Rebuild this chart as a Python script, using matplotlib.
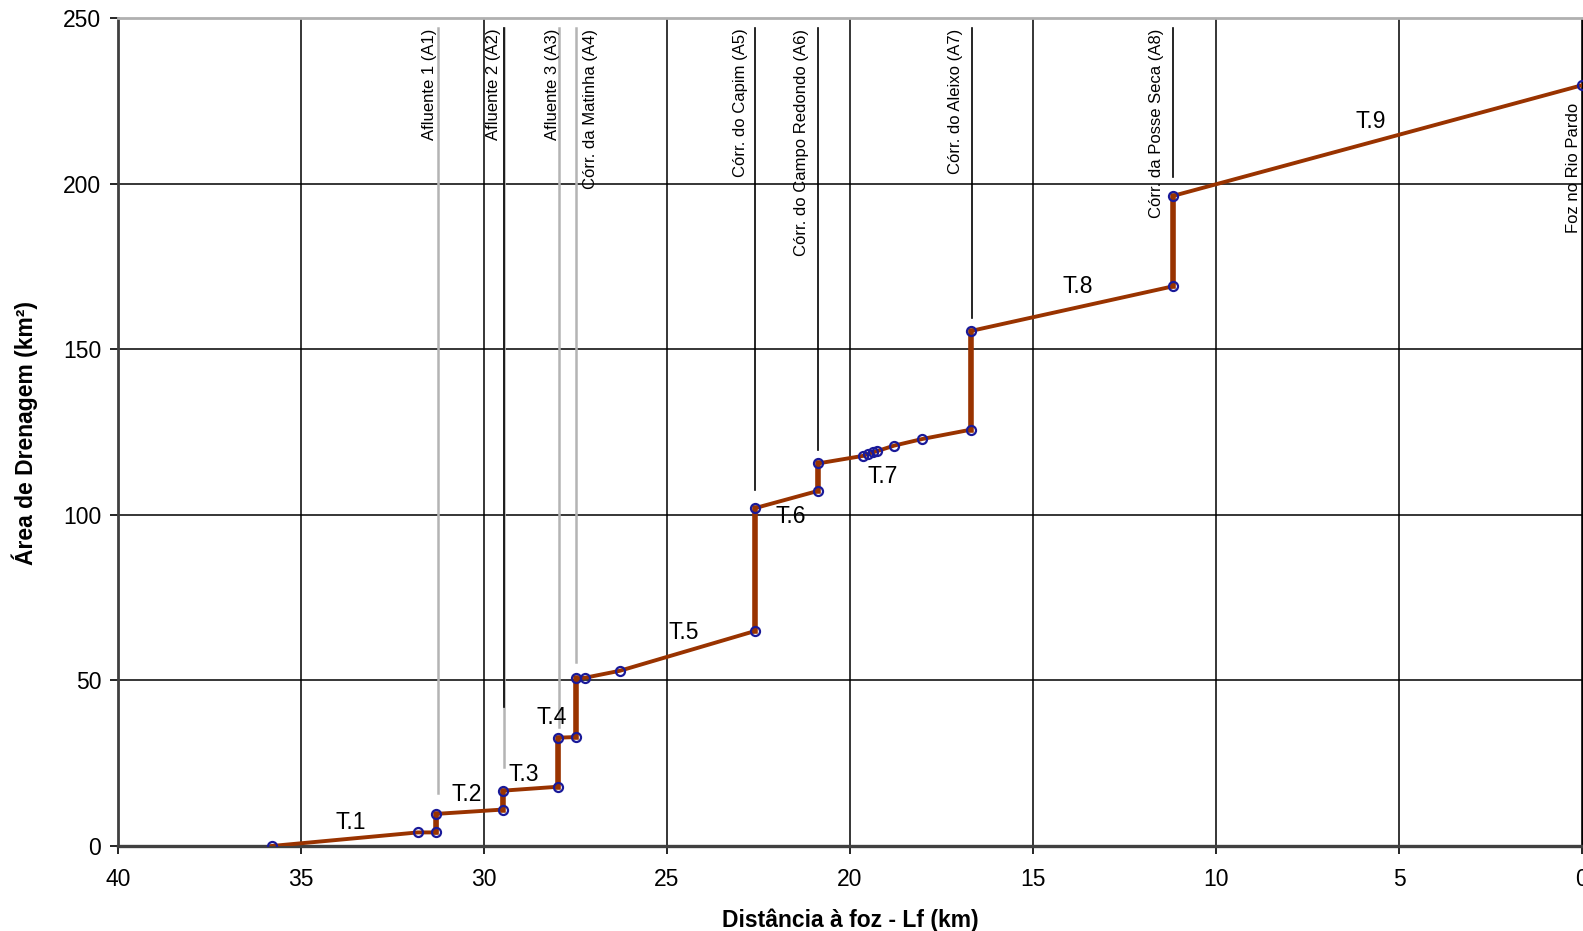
import matplotlib.pyplot as plt

# === Dados ===
dist_km = [35.80, 31.81, 31.30, 31.30, 29.49, 29.49, 27.97, 27.97, 27.49, 27.49,
           27.24, 26.29, 22.60, 22.60, 20.88, 20.88, 19.64, 19.50, 19.36, 19.27,
           18.79, 18.02, 16.70, 16.70, 11.17, 11.17, 0.0]
area_km2 = [0.0, 4.1, 4.1, 9.7, 11.0, 16.7, 17.9, 32.7, 32.9, 50.6,
            50.8, 52.9, 64.9, 102.0, 107.2, 115.5, 117.8, 118.4, 118.9, 119.2,
            120.9, 122.9, 125.7, 155.5, 169.0, 196.3, 229.7]

trechos = ["T.1", "T.2", "T.3", "T.4", "T.5", "T.6", "T.7", "T.8", "T.9"]
trecho_x = [33.63, 30.48, 28.91, 28.14, 24.55, 21.63, 19.12, 13.77, 5.77]
trecho_y = [7.0, 15.5, 21.6, 38.7, 64.6, 99.4, 111.6, 168.9, 218.6]

afluentes = ["Afluente 1 (A1)", "Afluente 2 (A2)", "Afluente 3 (A3)",
             "Córr. da Matinha (A4)", "Córr. do Capim (A5)",
             "Córr. do Campo Redondo (A6)", "Córr. do Aleixo (A7)",
             "Córr. da Posse Seca (A8)"]
afl_x = [31.27, 29.45, 27.95, 27.49, 22.60, 20.88, 16.68, 11.17]
afl_base = [16.1, 23.9, 36.0, 55.6, 107.5, 119.6, 159.4, 202.1]
afl_cor = ["#b4b4b4", "#b4b4b4", "#b4b4b4", "#b4b4b4", "black", "black", "black", "black"]
afl_txt_x = [31.50, 29.74, 28.12, 27.10, 23.00, 21.32, 17.12, 11.62]

# === Figura ===
plt.rcParams["font.family"] = ["Liberation Sans", "DejaVu Sans"]
fig = plt.figure(figsize=(15.83, 9.31), dpi=100)
ax = fig.add_axes([118 / 1583, 1 - 846 / 931, 1464 / 1583, 828 / 931])

ax.set_xlim(40, 0)
ax.set_ylim(0, 250)
ax.set_xticks(range(40, -1, -5))
ax.set_yticks(range(0, 251, 50))
ax.grid(True, color="black", linewidth=1.1)
ax.set_axisbelow(True)

# linhas verticais dos afluentes
topo = 247
for x, base, cor in zip(afl_x, afl_base, afl_cor):
    ax.plot([x, x], [base, topo], color=cor, linewidth=1.8 if cor != "black" else 1.2, zorder=2)
# trecho superior do A2 em preto
ax.plot([afl_x[1], afl_x[1]], [42, topo], color="black", linewidth=1.2, zorder=2)

for nome, xt in zip(afluentes, afl_txt_x):
    ax.text(xt, 246.8, nome, rotation=90, ha="center", va="top", fontsize=12, zorder=3)
ax.text(0.22, 204.7, "Foz no Rio Pardo", rotation=90, ha="center", va="center", fontsize=12, zorder=3)

# perfil da área de drenagem
ax.plot(dist_km, area_km2, color="#993300", linewidth=2.8, zorder=4)
# degraus verticais um pouco mais grossos
for i in range(len(dist_km) - 1):
    if dist_km[i] == dist_km[i + 1]:
        ax.plot(dist_km[i:i + 2], area_km2[i:i + 2], color="#993300", linewidth=4.0, zorder=4)
ax.plot(dist_km, area_km2, linestyle="none", marker="o", markersize=6.5,
        markerfacecolor="none", markeredgecolor="#1a1a99", markeredgewidth=1.6, zorder=5)

for t, xt, yt in zip(trechos, trecho_x, trecho_y):
    ax.text(xt, yt, t, ha="center", va="center", fontsize=16.5, zorder=6)

# eixos
ax.spines["left"].set_color("#404040")
ax.spines["left"].set_linewidth(2)
ax.spines["bottom"].set_color("#404040")
ax.spines["bottom"].set_linewidth(2.4)
ax.spines["top"].set_color("#b0b0b0")
ax.spines["top"].set_linewidth(2)
ax.spines["right"].set_color("black")
ax.spines["right"].set_linewidth(1)
ax.tick_params(axis="x", direction="out", length=6, width=1.2, labelsize=16.5, pad=10)
ax.tick_params(axis="y", direction="out", length=6, width=1.2, labelsize=16.5, pad=6)

fig.text(850 / 1583, 1 - 920 / 931, "Distância à foz - Lf (km)", ha="center", va="center",
         fontsize=16.5, fontweight="bold")
fig.text(25 / 1583, 1 - 433 / 931, "Área de Drenagem (km²)", ha="center", va="center",
         rotation=90, fontsize=16.5, fontweight="bold")

fig.savefig("out.png", dpi=100)
